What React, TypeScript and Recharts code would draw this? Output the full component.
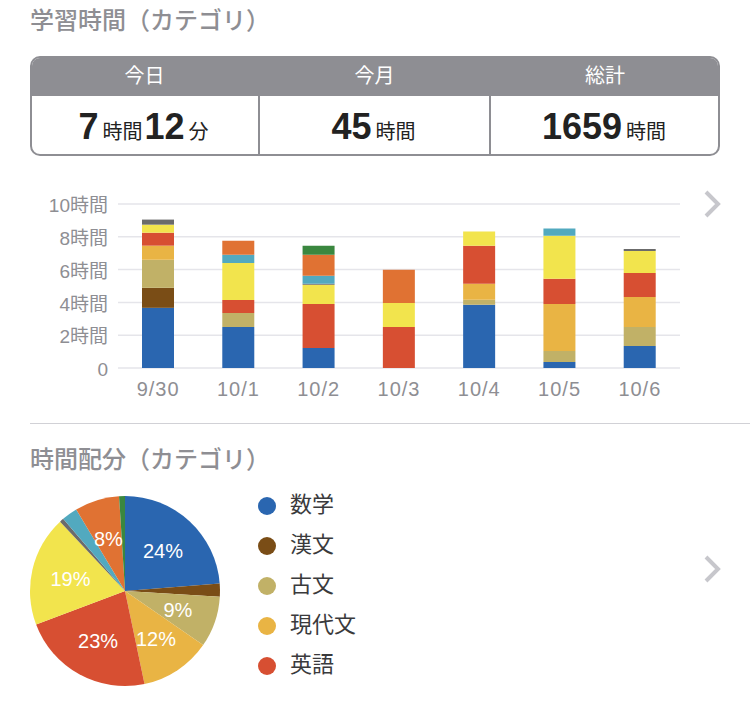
import { BarChart, Bar, XAxis, YAxis, CartesianGrid, PieChart, Pie, Cell } from 'recharts'

const days = ['9/30', '10/1', '10/2', '10/3', '10/4', '10/5', '10/6']
const yTicks = [0, 2, 4, 6, 8, 10]

// 数学, 漢文, 古文, 現代文, 英語 and the five categories scrolled out of the legend
const seriesKeys = ['s1', 's2', 's3', 's4', 's5', 's6', 's7', 's8', 's9', 's10']
const legendNames = ['数学', '漢文', '古文', '現代文', '英語']
const colors = ['#2a66b0', '#7a4d16', '#c1b167', '#e9b444', '#d74f32', '#f2e44d', '#6b6b6b', '#52a9bf', '#e07233', '#3a873f']

const s1 = [3.67, 2.5, 1.22, 0, 3.85, 0.37, 1.34]
const s2 = [1.22, 0, 0, 0, 0, 0, 0]
const s3 = [1.71, 0.86, 0, 0, 0.31, 0.67, 1.16]
const s4 = [0.86, 0, 0, 0, 0.98, 2.87, 1.83]
const s5 = [0.79, 0.79, 2.69, 2.5, 2.32, 1.53, 1.47]
const s6 = [0.49, 2.26, 1.16, 1.47, 0.86, 2.63, 1.34]
const s7 = [0.31, 0, 0.06, 0, 0, 0, 0.12]
const s8 = [0, 0.49, 0.49, 0, 0, 0.43, 0]
const s9 = [0, 0.86, 1.28, 2.02, 0, 0, 0]
const s10 = [0, 0, 0.55, 0, 0, 0, 0]
const seriesValues = [s1, s2, s3, s4, s5, s6, s7, s8, s9, s10]

const pieShares = [23.8, 2.2, 8.7, 12.1, 22.6, 18.8, 0.7, 2.7, 7.6, 1.0]

const barData = days.map((day, i) => {
  const row: Record<string, string | number> = { day }
  seriesKeys.forEach((key, k) => {
    row[key] = seriesValues[k][i]
  })
  return row
})
const pieData = seriesKeys.map((key, k) => ({ key, value: pieShares[k] }))

const GRAY = '#8e8e93'
const FONT = '"Liberation Sans", "Noto Sans CJK JP", sans-serif'
const RADIAN = Math.PI / 180

function PieLabel({ cx, cy, midAngle, percent }: any) {
  if (percent < 0.05) return null
  const x = cx + 56 * Math.cos(-midAngle * RADIAN)
  const y = cy + 56 * Math.sin(-midAngle * RADIAN) + 1
  return (
    <text x={x} y={y} fill="#fff" fontSize={20} textAnchor="middle" dominantBaseline="central">
      {Math.round(percent * 100)}%
    </text>
  )
}

function Chevron({ top }: { top: number }) {
  return (
    <svg width={20} height={28} style={{ position: 'absolute', left: 703, top }}>
      <polyline points="3,2 15,14 3,26" fill="none" stroke="#c7c7cc" strokeWidth={4} />
    </svg>
  )
}

function Title({ top, children }: { top: number; children: string }) {
  return (
    <div style={{ position: 'absolute', left: 30, top, fontSize: 24, lineHeight: '30px', fontWeight: 500, color: GRAY, whiteSpace: 'nowrap' }}>
      {children}
    </div>
  )
}

function Num({ children }: { children: string }) {
  return <span style={{ fontSize: 36, fontWeight: 700, color: '#222' }}>{children}</span>
}

function Unit({ children }: { children: string }) {
  return <span style={{ fontSize: 20, color: '#222', margin: '0 2px 0 4px' }}>{children}</span>
}

const cells = [
  { head: '今日', left: 0, width: 229, body: <><Num>7</Num><Unit>時間</Unit><Num>12</Num><Unit>分</Unit></> },
  { head: '今月', left: 229, width: 231, body: <><Num>45</Num><Unit>時間</Unit></> },
  { head: '総計', left: 460, width: 230, body: <><Num>1659</Num><Unit>時間</Unit></> },
]

export default function App() {
  return (
    <div style={{ position: 'absolute', left: 0, top: 0, width: 750, height: 701, overflow: 'hidden', background: '#fff', fontFamily: FONT }}>
      <Title top={6}>学習時間（カテゴリ）</Title>

      <div style={{ position: 'absolute', left: 30, top: 56, width: 690, height: 100, boxSizing: 'border-box', border: `2px solid ${GRAY}`, borderRadius: 10, overflow: 'hidden' }}>
        <div style={{ position: 'absolute', left: -2, top: -2, width: 690, height: 40, background: GRAY }} />
        {cells.map((c, i) => (
          <div key={c.head}>
            <div style={{ position: 'absolute', left: c.left - 2, top: -2, width: c.width, height: 40, lineHeight: '40px', textAlign: 'center', fontSize: 20, color: '#fff' }}>
              {c.head}
            </div>
            <div style={{ position: 'absolute', left: c.left - 2, top: 40, width: c.width, height: 58, lineHeight: '58px', textAlign: 'center', whiteSpace: 'nowrap' }}>
              {c.body}
            </div>
            {i > 0 && <div style={{ position: 'absolute', left: c.left - 3, top: 38, width: 2, height: 60, background: GRAY }} />}
          </div>
        ))}
      </div>

      <div style={{ position: 'absolute', left: 0, top: 180 }}>
        <BarChart width={750} height={230} data={barData} margin={{ left: 0, right: 70, top: 24, bottom: 0 }}>
          <CartesianGrid vertical={false} stroke="#e5e5ea" strokeWidth={1.5} />
          <XAxis dataKey="day" axisLine={false} tickLine={false} height={42} tickMargin={8} tick={{ fill: GRAY, fontSize: 20, letterSpacing: 1 }} interval={0} />
          <YAxis
            domain={[0, 10]}
            ticks={yTicks}
            width={118}
            axisLine={false}
            tickLine={false}
            tickMargin={4}
            tick={{ fill: GRAY, fontSize: 19, dy: 1.5 }}
            tickFormatter={(v: number) => (v === 0 ? '0' : `${v}時間`)}
          />
          {seriesKeys.map((key, k) => (
            <Bar key={key} dataKey={key} stackId="a" fill={colors[k]} barSize={32} isAnimationActive={false} />
          ))}
        </BarChart>
      </div>
      <Chevron top={190} />

      <div style={{ position: 'absolute', left: 30, top: 423, width: 720, height: 1, background: '#d1d1d6' }} />
      <Title top={445}>時間配分（カテゴリ）</Title>

      <div style={{ position: 'absolute', left: 15, top: 481 }}>
        <PieChart width={220} height={220} margin={{ left: 0, right: 0, top: 0, bottom: 0 }}>
          <Pie
            data={pieData}
            dataKey="value"
            cx={110}
            cy={110}
            outerRadius={95}
            startAngle={90}
            endAngle={-270}
            stroke="none"
            label={PieLabel}
            labelLine={false}
            isAnimationActive={false}
          >
            {pieData.map((d, k) => (
              <Cell key={d.key} fill={colors[k]} />
            ))}
          </Pie>
        </PieChart>
      </div>

      {legendNames.map((name, k) => (
        <div key={name} style={{ position: 'absolute', left: 258, top: 486 + k * 40, height: 40, display: 'flex', alignItems: 'center', whiteSpace: 'nowrap' }}>
          <span style={{ width: 18, height: 18, borderRadius: 9, background: colors[k], marginRight: 14 }} />
          <span style={{ fontSize: 22, color: '#3a3a3c', position: 'relative', top: -4 }}>{name}</span>
        </div>
      ))}
      <Chevron top={555} />
    </div>
  )
}
